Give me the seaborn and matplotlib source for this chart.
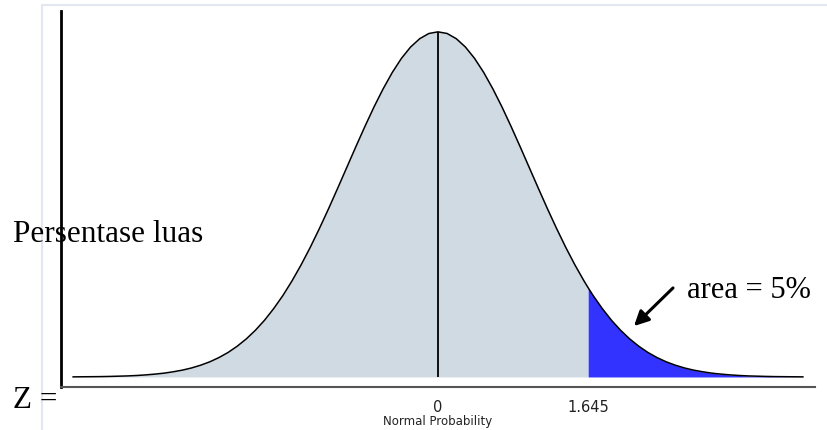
import matplotlib
matplotlib.use('Agg')
import matplotlib.pyplot as plt
import seaborn as sns
import pandas as pd
from matplotlib.patches import Rectangle

# nilai kurva normal baku (z, tinggi kurva)
z_vals = [-4.0, -3.9, -3.8, -3.7, -3.6, -3.5, -3.4, -3.3, -3.2, -3.1,
          -3.0, -2.9, -2.8, -2.7, -2.6, -2.5, -2.4, -2.3, -2.2, -2.1,
          -2.0, -1.9, -1.8, -1.7, -1.6, -1.5, -1.4, -1.3, -1.2, -1.1,
          -1.0, -0.9, -0.8, -0.7, -0.6, -0.5, -0.4, -0.3, -0.2, -0.1,
          0.0, 0.1, 0.2, 0.3, 0.4, 0.5, 0.6, 0.7, 0.8, 0.9,
          1.0, 1.1, 1.2, 1.3, 1.4, 1.5, 1.6, 1.645, 1.7, 1.8, 1.9,
          2.0, 2.1, 2.2, 2.3, 2.4, 2.5, 2.6, 2.7, 2.8, 2.9,
          3.0, 3.1, 3.2, 3.3, 3.4, 3.5, 3.6, 3.7, 3.8, 3.9, 4.0]
dens = [0.0001, 0.0002, 0.0003, 0.0004, 0.0006, 0.0009, 0.0012, 0.0017, 0.0024, 0.0033,
        0.0044, 0.0060, 0.0079, 0.0104, 0.0136, 0.0175, 0.0224, 0.0283, 0.0355, 0.0440,
        0.0540, 0.0656, 0.0790, 0.0940, 0.1109, 0.1295, 0.1497, 0.1714, 0.1942, 0.2179,
        0.2420, 0.2661, 0.2897, 0.3123, 0.3332, 0.3521, 0.3683, 0.3814, 0.3910, 0.3970,
        0.3989, 0.3970, 0.3910, 0.3814, 0.3683, 0.3521, 0.3332, 0.3123, 0.2897, 0.2661,
        0.2420, 0.2179, 0.1942, 0.1714, 0.1497, 0.1295, 0.1109, 0.1031, 0.0940, 0.0790, 0.0656,
        0.0540, 0.0440, 0.0355, 0.0283, 0.0224, 0.0175, 0.0136, 0.0104, 0.0079, 0.0060,
        0.0044, 0.0033, 0.0024, 0.0017, 0.0012, 0.0009, 0.0006, 0.0004, 0.0003, 0.0002, 0.0001]
z_crit = 1.645
tick_pos = [0, 1.645]
tick_lbl = ['0', '1.645']

df = pd.DataFrame({'z': z_vals, 'f': dens})
kiri = df[df['z'] <= z_crit]
kanan = df[df['z'] >= z_crit]

sns.set_style('white')
fig = plt.figure(figsize=(8.27, 4.31), dpi=100)
ax = fig.add_axes([61/827, 1 - 388/431, (815-61)/827, (388-12)/431])

ax.fill_between(kiri['z'], 0, kiri['f'], color='#D0DAE3', lw=0)
ax.fill_between(kanan['z'], 0, kanan['f'], color='#3333FF', lw=0)
sns.lineplot(data=df, x='z', y='f', ax=ax, color='black', lw=1.1)
ax.vlines(0, 0, df['f'].max(), color='black', lw=1.3)

ax.set_xlim(-4.13, 4.13)
ax.set_ylim(-0.0116, 0.423)
ax.set_yticks([])
ax.set_xticks(tick_pos)
ax.set_xticklabels(tick_lbl, fontsize=10.5, family='DejaVu Sans', color='#222222')
ax.tick_params(axis='x', direction='out', length=5, width=1.2, color='#555555', pad=4)
ax.set_xlabel('Normal Probability', fontsize=8.5, labelpad=0, color='#222222')
ax.set_ylabel('')
for s in ['top', 'right']:
    ax.spines[s].set_visible(False)
ax.spines['left'].set_color('black')
ax.spines['left'].set_linewidth(2)
ax.spines['bottom'].set_color('#555555')
ax.spines['bottom'].set_linewidth(1.5)

# bingkai tipis
fig.patches.append(Rectangle((42/827, -0.01), 1.0, 1 - 6/431 + 0.01, transform=fig.transFigure,
                             fill=False, edgecolor='#E2E7F2', lw=1.5))

serif = 'Liberation Serif'
fig.text(13/827, 1 - 242/431, 'Persentase luas', family=serif, fontsize=22.5, va='baseline', color='black')
fig.text(13/827, 1 - 408/431, 'Z =', family=serif, fontsize=22.5, va='baseline', color='black')
fig.text(687/827, 1 - 298/431, 'area = 5%', family=serif, fontsize=22, va='baseline', color='black')
ax.annotate('', xy=(632/827, 1 - 329/431), xytext=(675/827, 1 - 287/431),
            xycoords='figure fraction', textcoords='figure fraction',
            arrowprops=dict(arrowstyle='-|>', color='black', lw=2.2, mutation_scale=22))

plt.savefig('out.png', dpi=100)
plt.close()
